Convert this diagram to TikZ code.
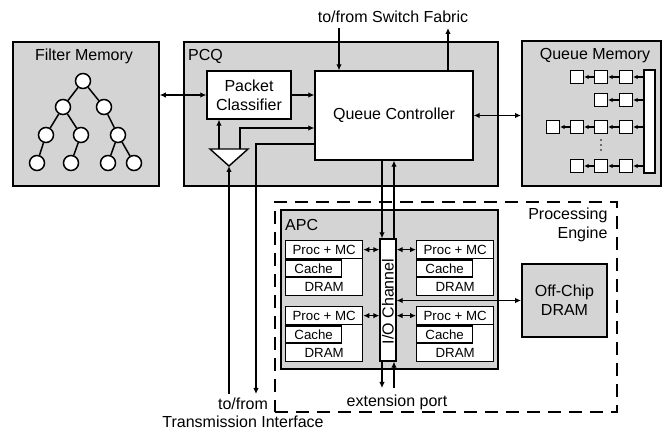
\documentclass[tikz,border=0pt]{standalone}
\usepackage{fontspec}
\setmainfont{Liberation Sans}
\usepackage{xcolor}
\usepackage{tikz}
\usetikzlibrary{arrows.meta,positioning,calc}
\definecolor{dotgray}{gray}{0.83}

\begin{document}
\begin{tikzpicture}[
  x=1pt, y=-1pt,
  font=\fontsize{16}{19}\selectfont,
  unit/.style={rectangle, draw=black, line width=1.8pt, fill=dotgray, anchor=north west, inner sep=0pt},
  blk/.style={rectangle, draw=black, line width=1.3pt, fill=white, inner sep=0pt},
  sml/.style={font=\fontsize{13.3}{15}\selectfont},
  ttl/.style={inner sep=0pt},
  tnode/.style={circle, draw=black, line width=1.5pt, fill=white, minimum size=15pt, inner sep=0pt},
  qsq/.style={rectangle, draw=black, line width=1.3pt, fill=white, minimum size=13pt, inner sep=0pt},
  arr/.style={-{Latex[length=6pt,width=5.5pt]}, line width=1.3pt},
  darr/.style={{Latex[length=6pt,width=5.5pt]}-{Latex[length=6pt,width=5.5pt]}, line width=1.3pt},
  qarr/.style={-{Latex[length=4.5pt,width=4.5pt]}, line width=1.3pt},
]
\useasboundingbox (0,0) rectangle (662,430);
% outer units
\node[unit, minimum width=146pt, minimum height=144pt] (fm) at (12,41) {};
\node[ttl] (fmlab) at (84,56) {Filter Memory};
\node[unit, minimum width=314pt, minimum height=144pt] (pcq) at (183,41) {};
\node[ttl, anchor=west] (pcqlab) at (188,56) {PCQ};
\node[unit, minimum width=139pt, minimum height=145pt] (qm) at (521,40) {};
\node[ttl] (qmlab) at (595,56) {Queue Memory};
% filter tree
\node[tnode] (t0) at (83,81) {};
\node[tnode] (t1) at (63,107) {};
\node[tnode] (t2) at (104,107) {};
\node[tnode] (t3) at (46,135) {};
\node[tnode] (t4) at (81,135) {};
\node[tnode] (t5) at (118,135) {};
\node[tnode] (t6) at (37,163) {};
\node[tnode] (t7) at (71,163) {};
\node[tnode] (t8) at (108,163) {};
\node[tnode] (t9) at (134,163) {};
\draw[line width=1.5pt] (t0)--(t1); \draw[line width=1.5pt] (t0)--(t2);
\draw[line width=1.5pt] (t1)--(t3); \draw[line width=1.5pt] (t1)--(t4); \draw[line width=1.5pt] (t2)--(t5);
\draw[line width=1.5pt] (t3)--(t6); \draw[line width=1.5pt] (t4)--(t7);
\draw[line width=1.5pt] (t5)--(t8); \draw[line width=1.5pt] (t5)--(t9);
% PCQ inside
\node[blk, minimum width=84pt, minimum height=48pt, align=center] (pc) at (249,95) {Packet\\Classifier};
\node[blk, minimum width=158pt, minimum height=89pt] (qc) at (394,115.5) {Queue Controller};
\coordinate (bufA) at (229,166);
\coordinate (bufL) at (219,149);
\coordinate (bufR) at (240,149);
\draw[line width=1.4pt, fill=white] (210,149) -- (248,149) -- (bufA) -- cycle;
\draw[arr] (bufL) -- (bufL |- pc.south);
\draw[arr] (bufR) |- ($(qc.west)+(0,12.5)$);
\draw[darr] (fm.east |- pc.west) -- (pc.west);
\draw[arr] (pc.east) -- (pc.east -| qc.west);
\draw[darr] (qc.east) -- (qc.east -| qm.west);
% transmission interface
\coordinate (txin) at (229,394);
\coordinate (txout) at (256,394);
\draw[arr] (txin) -- (bufA);
\draw[arr] ($(qc.west)+(0,28.5)$) -| (txout);
\node[align=center, font=\fontsize{16}{18}\selectfont, inner sep=0pt] (tx) at (243,413) {to/from\\Transmission Interface};
% switch fabric
\node (sf) at (393,17) {to/from Switch Fabric};
\coordinate (sfin) at (339,28);
\coordinate (sfout) at (448,28);
\draw[arr] (sfin) -- (sfin |- qc.north);
\draw[arr] (sfout |- qc.north) -- (sfout);
% queue memory
\node[blk, minimum width=11pt, minimum height=103pt] (qbar) at (649.5,121.5) {};
\node[qsq] (q11) at (577,77) {}; \node[qsq] (q12) at (601,77) {}; \node[qsq] (q13) at (626,77) {};
\node[qsq] (q22) at (601,100) {}; \node[qsq] (q23) at (626,100) {};
\node[qsq] (q30) at (553,127) {}; \node[qsq] (q31) at (577,127) {}; \node[qsq] (q32) at (601,127) {}; \node[qsq] (q33) at (626,127) {};
\node[qsq] (q41) at (577,166) {}; \node[qsq] (q42) at (601,166) {}; \node[qsq] (q43) at (626,166) {};
\fill (601,140) circle (0.9); \fill (601,145) circle (0.9); \fill (601,150) circle (0.9);
\draw[qarr] (qbar.west |- q13) -- (q13); \draw[qarr] (q13)--(q12); \draw[qarr] (q12)--(q11);
\draw[qarr] (qbar.west |- q23) -- (q23); \draw[qarr] (q23)--(q22);
\draw[qarr] (qbar.west |- q33) -- (q33); \draw[qarr] (q33)--(q32); \draw[qarr] (q32)--(q31); \draw[qarr] (q31)--(q30);
\draw[qarr] (qbar.west |- q43) -- (q43); \draw[qarr] (q43)--(q42); \draw[qarr] (q42)--(q41);
% processing engine
\node[draw=black, line width=1.7pt, dash pattern=on 13pt off 8pt, anchor=north west, minimum width=342pt, minimum height=210pt, inner sep=0pt] (pe) at (274,201) {};
\node[align=right, anchor=east] (pelab) at (611,225) {Processing\\Engine};
\node[unit, minimum width=217pt, minimum height=159pt] (apc) at (280,209) {};
\node[ttl, anchor=west] (apclab) at (285,225) {APC};
% processor blocks
\node[blk, anchor=north west, minimum width=77pt, minimum height=55pt] (b1) at (285,240) {};
\node[blk, sml, anchor=north west, minimum width=77pt, minimum height=18pt] (b1p) at (b1.north west) {Proc + MC};
\node[blk, sml, anchor=north west, minimum width=56pt, minimum height=17pt] (b1c) at (b1p.south west) {Cache};
\node[sml] (b1d) at ($(b1.south)+(0,-9)$) {DRAM};
\node[blk, anchor=north west, minimum width=77pt, minimum height=55pt] (b2) at (416,240) {};
\node[blk, sml, anchor=north west, minimum width=77pt, minimum height=18pt] (b2p) at (b2.north west) {Proc + MC};
\node[blk, sml, anchor=north west, minimum width=56pt, minimum height=17pt] (b2c) at (b2p.south west) {Cache};
\node[sml] (b2d) at ($(b2.south)+(0,-9)$) {DRAM};
\node[blk, anchor=north west, minimum width=77pt, minimum height=55pt] (b3) at (285,306) {};
\node[blk, sml, anchor=north west, minimum width=77pt, minimum height=18pt] (b3p) at (b3.north west) {Proc + MC};
\node[blk, sml, anchor=north west, minimum width=56pt, minimum height=17pt] (b3c) at (b3p.south west) {Cache};
\node[sml] (b3d) at ($(b3.south)+(0,-9)$) {DRAM};
\node[blk, anchor=north west, minimum width=77pt, minimum height=55pt] (b4) at (416,306) {};
\node[blk, sml, anchor=north west, minimum width=77pt, minimum height=18pt] (b4p) at (b4.north west) {Proc + MC};
\node[blk, sml, anchor=north west, minimum width=56pt, minimum height=17pt] (b4c) at (b4p.south west) {Cache};
\node[sml] (b4d) at ($(b4.south)+(0,-9)$) {DRAM};
% I/O channel
\node[blk, minimum width=16pt, minimum height=122pt] (io) at (388,300) {};
\node[rotate=90, inner sep=0pt] (iolab) at (388,301.5) {I/O Channel};
\draw[darr] (b1p.east) -- (b1p.east -| io.west);
\draw[darr] (b2p.west) -- (b2p.west -| io.east);
\draw[darr] (b3p.east) -- (b3p.east -| io.west);
\draw[darr] (b4p.west) -- (b4p.west -| io.east);
\coordinate (iol) at ($(io.north)+(-6,0)$);
\coordinate (ior) at ($(io.north)+(6,0)$);
\draw[arr] (qc.south -| iol) -- (iol);
\draw[arr] (ior) -- (qc.south -| ior);
\coordinate (extl) at (382,388);
\coordinate (extr) at (394,388);
\draw[arr] (extl |- io.south) -- (extl);
\draw[arr] (extr) -- (extr |- io.south);
\node (ext) at (397,402) {extension port};
% off-chip memory
\node[unit, anchor=center, minimum width=85pt, minimum height=73pt, align=center] (ocd) at (564.5,300.5) {Off-Chip\\DRAM};
\draw[darr] (ocd.west) -- (ocd.west -| io.east);
\end{tikzpicture}
\end{document}
